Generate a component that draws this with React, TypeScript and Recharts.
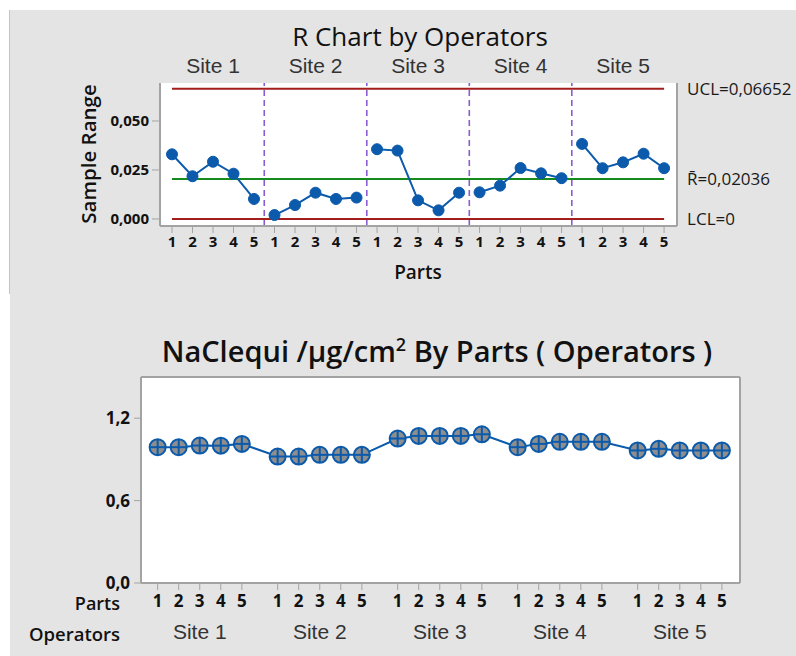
import { CartesianGrid, Line, LineChart, ReferenceLine, XAxis, YAxis } from "recharts"

const FONT = '"Segoe UI", "Open Sans", "Noto Sans", sans-serif'
const ARIAL = '"Liberation Sans", Arial, sans-serif'

const sites = ["Site 1", "Site 2", "Site 3", "Site 4", "Site 5"]
const parts = [1, 2, 3, 4, 5]

// sample ranges per site (R chart)
const site1Range = [0.033, 0.0218, 0.0292, 0.0231, 0.0102]
const site2Range = [0.002, 0.0071, 0.0134, 0.0102, 0.0109]
const site3Range = [0.0356, 0.0349, 0.0095, 0.0044, 0.0134]
const site4Range = [0.0136, 0.017, 0.026, 0.0233, 0.0208]
const site5Range = [0.0383, 0.0259, 0.0289, 0.0333, 0.0259]

const ucl = 0.06652
const rBar = 0.02036
const lcl = 0

// NaClequi means per site (by parts)
const site1Mean = [0.989, 0.989, 1.001, 1.0, 1.013]
const site2Mean = [0.921, 0.921, 0.933, 0.933, 0.933]
const site3Mean = [1.052, 1.071, 1.071, 1.071, 1.083]
const site4Mean = [0.989, 1.013, 1.028, 1.028, 1.028]
const site5Mean = [0.965, 0.977, 0.965, 0.965, 0.965]

const rangeTicks = [0, 0.025, 0.05]
const meanTicks = [0, 0.6, 1.2]

const rangeBySite = [site1Range, site2Range, site3Range, site4Range, site5Range]
const meanBySite = [site1Mean, site2Mean, site3Mean, site4Mean, site5Mean]

const GAP = 0.7 // extra space between site groups in the lower chart

const rangeRows = sites.flatMap((_, s) =>
  parts.map((p, i) => ({ x: s * 5 + i, part: p, [`s${s}`]: rangeBySite[s][i] }))
)
const meanRows = sites.flatMap((_, s) =>
  parts.map((p, i) => ({ x: s * (5 + GAP) + i, part: p, mean: meanBySite[s][i] }))
)
const lastTop = rangeRows[rangeRows.length - 1].x

const partLabel = (rows: { x: number; part: number }[]) => (v: number) => {
  const r = rows.find((row) => Math.abs(row.x - v) < 1e-6)
  return r ? String(r.part) : ""
}
const siteCentersTop = sites.map((_, s) => s * 5 + 2)
const siteCentersBottom = sites.map((_, s) => s * (5 + GAP) + 2)
const siteLabel = (centers: number[]) => (v: number) => {
  const i = centers.findIndex((c) => Math.abs(c - v) < 1e-6)
  return i >= 0 ? sites[i] : ""
}

const comma = (digits: number) => (v: number) => v.toFixed(digits).replace(".", ",")

const FRAME = "#a3a3a3"
const BLUE = "#0b5aab"
const topDomain: [number, number] = [-0.585, 24.63]
const topY: [number, number] = [-0.0036, 0.0694]
const bottomDomain: [number, number] = [-0.79, 27.66]
const bottomY: [number, number] = [0, 1.5]

const CrossDot = (props: any) => {
  const { cx, cy } = props
  if (cx == null || cy == null) return null
  return (
    <g>
      <circle cx={cx} cy={cy} r={8} fill="#8e8e8e" stroke={BLUE} strokeWidth={2} />
      <line x1={cx - 8} x2={cx + 8} y1={cy} y2={cy} stroke={BLUE} strokeWidth={2} />
      <line x1={cx} x2={cx} y1={cy - 8} y2={cy + 8} stroke={BLUE} strokeWidth={2} />
    </g>
  )
}

const boldTick = (size: number) => ({ fill: "#111", fontSize: size, fontWeight: 700, fontFamily: FONT })

const abs = (left: number, top: number, extra: any = {}) => ({
  position: "absolute" as const,
  left,
  top,
  transform: "translate(-50%, -50%)",
  whiteSpace: "nowrap" as const,
  fontFamily: FONT,
  color: "#111",
  lineHeight: 1,
  ...extra,
})

const limitLabel = (value: string) => ({
  value,
  position: "right" as const,
  offset: 23,
  fill: "#1a1a1a",
  fontSize: 17,
  fontFamily: FONT,
})

export default function App() {
  return (
    <div style={{ position: "absolute", left: 0, top: 0, width: 796, height: 656, background: "#fff", overflow: "hidden" }}>
      <div style={{ position: "absolute", left: 10, top: 10, width: 786, height: 646, background: "#e4e4e4" }} />
      <div style={{ position: "absolute", left: 9, top: 10, width: 1, height: 284, background: "#c4c4c4" }} />

      {/* R chart */}
      <div style={{ position: "absolute", left: 0, top: 0 }}>
        <LineChart width={796} height={300} data={rangeRows} margin={{ top: 53, right: 119, left: 100, bottom: 44 }}>
          <CartesianGrid horizontal={false} vertical={false} fill="#fff" />
          <XAxis
            dataKey="x"
            type="number"
            domain={topDomain}
            ticks={rangeRows.map((r) => r.x)}
            tickFormatter={partLabel(rangeRows)}
            interval={0}
            height={30}
            tickSize={7}
            tickMargin={3}
            axisLine={{ stroke: FRAME, strokeWidth: 2 }}
            tickLine={{ stroke: FRAME }}
            tick={boldTick(15)}
            allowDataOverflow
          />
          <XAxis
            xAxisId="site"
            dataKey="x"
            orientation="top"
            type="number"
            domain={topDomain}
            ticks={siteCentersTop}
            tickFormatter={siteLabel(siteCentersTop)}
            interval={0}
            height={30}
            axisLine={false}
            tickLine={false}
            tickMargin={4}
            tick={{ fill: "#333", fontSize: 21, fontFamily: ARIAL }}
            allowDataOverflow
          />
          <YAxis
            type="number"
            domain={topY}
            ticks={rangeTicks}
            tickFormatter={comma(3)}
            width={60}
            tickSize={8}
            tickMargin={3}
            axisLine={{ stroke: FRAME, strokeWidth: 2 }}
            tickLine={{ stroke: FRAME }}
            tick={boldTick(15)}
            allowDataOverflow
          />
          <ReferenceLine x={topDomain[1]} stroke={FRAME} strokeWidth={2} ifOverflow="visible" />
          {sites.slice(1).map((_, s) => (
            <ReferenceLine key={s} x={(s + 1) * 5 - 0.5} stroke="#8a5bd3" strokeWidth={1.6} strokeDasharray="6 4" />
          ))}
          <ReferenceLine
            segment={[{ x: 0, y: ucl }, { x: lastTop, y: ucl }]}
            stroke="#a31d1d"
            strokeWidth={2}
            label={limitLabel(`UCL=${comma(5)(ucl)}`)}
          />
          <ReferenceLine
            segment={[{ x: 0, y: rBar }, { x: lastTop, y: rBar }]}
            stroke="#178a1e"
            strokeWidth={2}
            label={limitLabel(`R\u0304=${comma(5)(rBar)}`)}
          />
          <ReferenceLine
            segment={[{ x: 0, y: lcl }, { x: lastTop, y: lcl }]}
            stroke="#a31d1d"
            strokeWidth={2}
            label={limitLabel(`LCL=${lcl}`)}
          />
          {sites.map((_, s) => (
            <Line
              key={s}
              dataKey={`s${s}`}
              stroke={BLUE}
              strokeWidth={2}
              dot={{ r: 5.5, fill: BLUE, stroke: BLUE, strokeWidth: 1 }}
              connectNulls={false}
              isAnimationActive={false}
            />
          ))}
        </LineChart>
      </div>
      <div style={abs(420, 36, { fontSize: 26 })}>R Chart by Operators</div>
      <div style={abs(88, 154, { fontSize: 20.5, fontWeight: 600, transform: "translate(-50%, -50%) rotate(-90deg)" })}>Sample Range</div>
      <div style={abs(418, 272, { fontSize: 19, fontWeight: 600 })}>Parts</div>

      {/* NaClequi chart */}
      <div style={{ position: "absolute", left: 0, top: 300 }}>
        <LineChart width={796} height={356} data={meanRows} margin={{ top: 77, right: 56, left: 81, bottom: 11 }}>
          <CartesianGrid horizontal={false} vertical={false} fill="#fff" />
          <XAxis
            dataKey="x"
            type="number"
            domain={bottomDomain}
            ticks={meanRows.map((r) => r.x)}
            tickFormatter={partLabel(meanRows)}
            interval={0}
            height={30}
            tickSize={7}
            tickMargin={5}
            axisLine={{ stroke: FRAME, strokeWidth: 2 }}
            tickLine={{ stroke: FRAME }}
            tick={boldTick(17)}
            allowDataOverflow
          />
          <XAxis
            xAxisId="site"
            dataKey="x"
            type="number"
            domain={bottomDomain}
            ticks={siteCentersBottom}
            tickFormatter={siteLabel(siteCentersBottom)}
            interval={0}
            height={32}
            axisLine={false}
            tickLine={false}
            tickMargin={5}
            tick={{ fill: "#333", fontSize: 21, fontFamily: ARIAL }}
            allowDataOverflow
          />
          <YAxis
            type="number"
            domain={bottomY}
            ticks={meanTicks}
            tickFormatter={comma(1)}
            width={60}
            tickSize={7}
            tickMargin={4}
            axisLine={{ stroke: FRAME, strokeWidth: 2 }}
            tickLine={{ stroke: FRAME }}
            tick={boldTick(17)}
            allowDataOverflow
          />
          <ReferenceLine x={bottomDomain[1]} stroke={FRAME} strokeWidth={2} ifOverflow="visible" />
          <ReferenceLine y={bottomY[1]} stroke={FRAME} strokeWidth={2} ifOverflow="visible" />
          <Line dataKey="mean" stroke={BLUE} strokeWidth={2} dot={<CrossDot />} isAnimationActive={false} />
        </LineChart>
      </div>
      <div style={abs(437, 350, { fontSize: 29, fontWeight: 600 })}>
        NaClequi /µg/cm<sup style={{ fontSize: 18, verticalAlign: "super", lineHeight: 0 }}>2</sup> By Parts ( Operators )
      </div>
      <div style={{ ...abs(0, 603, { fontSize: 18, fontWeight: 600 }), left: 120, transform: "translate(-100%, -50%)" }}>Parts</div>
      <div style={{ ...abs(0, 634, { fontSize: 18.5, fontWeight: 600 }), left: 120, transform: "translate(-100%, -50%)" }}>Operators</div>
    </div>
  )
}
